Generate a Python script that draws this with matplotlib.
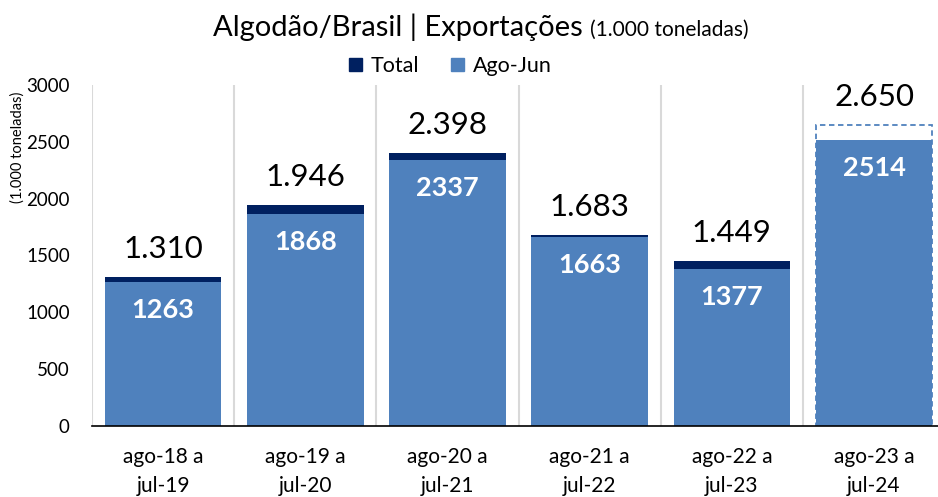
import numpy as np
import matplotlib
matplotlib.use("Agg")
import matplotlib.pyplot as plt
from matplotlib.patches import Patch

plt.rcParams['font.family'] = ['Lato', 'DejaVu Sans']

periods = ["ago-18 a\njul-19", "ago-19 a\njul-20", "ago-20 a\njul-21",
           "ago-21 a\njul-22", "ago-22 a\njul-23", "ago-23 a\njul-24"]
total = [1310, 1946, 2398, 1683, 1449, 2650]
ago_jun = [1263, 1868, 2337, 1663, 1377, 2514]
total_labels = ["1.310", "1.946", "2.398", "1.683", "1.449", "2.650"]

navy = "#002060"
blue = "#4F81BD"

fig = plt.figure(figsize=(9.38, 4.97), dpi=100)
ax = fig.add_axes([92/938, 71/497, 846/938, 341/497])

x = np.arange(len(periods))
w = 0.82

# total bars (last one is a projection: dashed outline)
for i in range(len(periods)):
	if i == len(periods) - 1:
		ax.bar(x[i], total[i], w, facecolor="white", edgecolor=blue,
			   linestyle=(0, (3, 2)), linewidth=1.3, zorder=2)
	else:
		ax.bar(x[i], total[i], w, color=navy, zorder=2)
ax.bar(x, ago_jun, w, color=blue, zorder=3)

for i in range(len(periods)):
	ax.annotate(total_labels[i], (x[i], total[i]), xytext=(0, 28),
				textcoords="offset pixels", ha="center", va="center",
				fontsize=22.5, color="black")
	ax.annotate(str(ago_jun[i]), (x[i], ago_jun[i]), xytext=(0, -28),
				textcoords="offset pixels", ha="center", va="center",
				fontsize=19.5, fontweight="bold", color="white", zorder=5)

for b in np.arange(-0.5, 5.0, 1.0):
	ax.axvline(b, color="#d9d9d9", linewidth=1.5, zorder=1)

ax.set_xlim(-0.5, 5.45)
ax.set_ylim(0, 3000)
ax.set_yticks(range(0, 3001, 500))
ax.set_xticks(x)
ax.set_xticklabels(periods, fontsize=15, linespacing=1.6)
ax.tick_params(axis="y", length=0, labelsize=13.5, pad=16)
ax.tick_params(axis="x", length=0, pad=15)
for s in ["top", "right", "left"]:
	ax.spines[s].set_visible(False)
ax.spines["bottom"].set_color("black")
ax.spines["bottom"].set_linewidth(1.2)
ax.spines["bottom"].set_zorder(6)

fig.text(18/938, 1 - 147/497, "(1.000 toneladas)", rotation=90,
		 ha="center", va="center", fontsize=10.5)

fig.text(583/938, 1 - 36/497, "Algodão/Brasil | Exportações", ha="right",
		 va="baseline", fontsize=21)
fig.text(590/938, 1 - 36/497, "(1.000 toneladas)", ha="left",
		 va="baseline", fontsize=15)

handles = [Patch(color=navy, label="Total"), Patch(color=blue, label="Ago-Jun")]
fig.legend(handles=handles, loc="center", bbox_to_anchor=(450/938, 1 - 66/497),
		   ncol=2, frameon=False, fontsize=15.5, handlelength=0.6,
		   handleheight=0.6, handletextpad=0.4, columnspacing=1.5)

fig.savefig("out.png", dpi=100)
